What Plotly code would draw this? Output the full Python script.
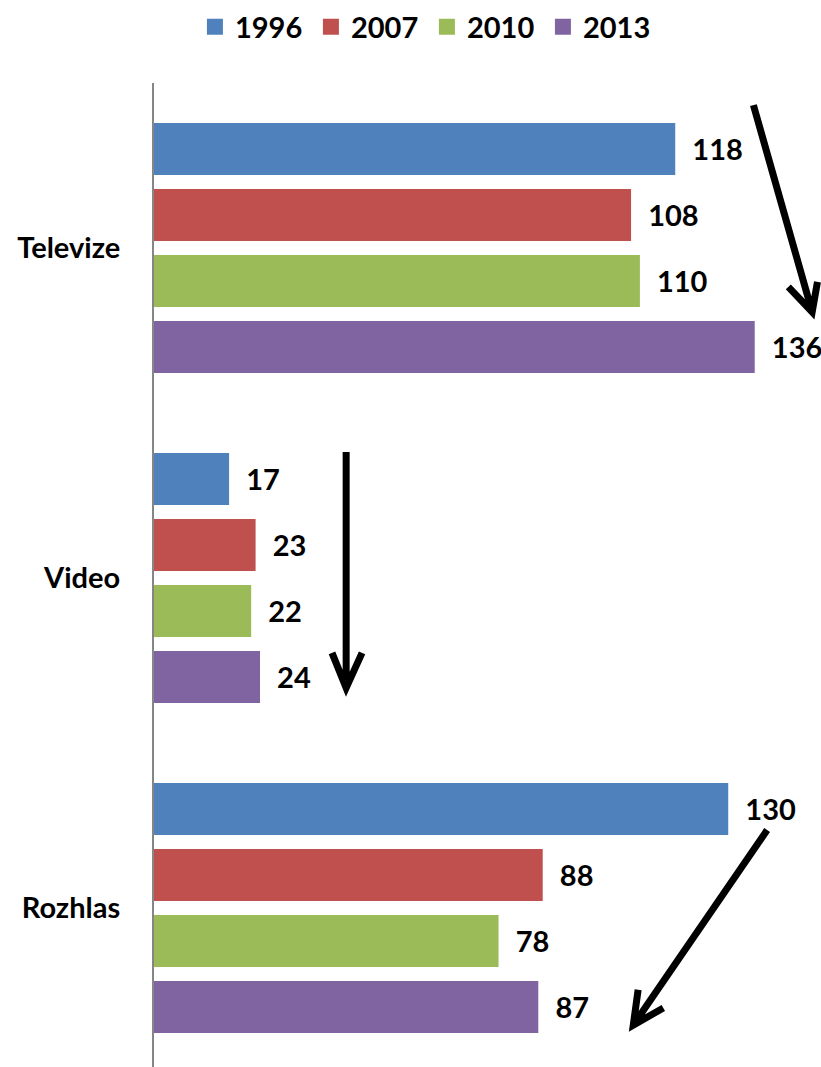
import plotly.graph_objects as go

categories = ["Televize", "Video", "Rozhlas"]
years = ["1996", "2007", "2010", "2013"]
v1996 = [118, 17, 130]
v2007 = [108, 23, 88]
v2010 = [110, 22, 78]
v2013 = [136, 24, 87]
colors = ["#4F81BD", "#C0504D", "#9BBB59", "#8064A2"]

series = [v1996, v2007, v2010, v2013]
ypos = list(range(len(categories)))
FONT = "Lato"
FS = 29

fig = go.Figure()
for name, vals, col in zip(years, series, colors):
    fig.add_trace(go.Bar(
        x=vals, y=ypos, orientation="h", name=name,
        marker=dict(color=col, line=dict(width=0)),
        text=[str(v) for v in vals],
        texttemplate="&nbsp;&nbsp;%{text}",
        textposition="outside", cliponaxis=False, constraintext="none",
        textfont=dict(family=FONT, size=FS, color="black", weight="bold"),
        showlegend=False, hoverinfo="skip",
    ))
    fig.add_trace(go.Scatter(
        x=[None], y=[None], mode="markers", name=name,
        marker=dict(symbol="square", size=18, color=col),
        showlegend=True,
    ))

# arrows (decorations) in data coordinates: (tail, tip, arm1, arm2)
arrows = [
    ((135.7, -0.433), (149.0, 0.194), (143.6, 0.118), (150.2, 0.103)),
    ((43.5, 0.618), (43.5, 1.333), (40.3, 1.227), (47.1, 1.227)),
    ((138.8, 1.764), (108.5, 2.355), (109.6, 2.248), (115.3, 2.303)),
]
for tail, tip, a1, a2 in arrows:
    path = (f"M{tail[0]},{tail[1]} L{tip[0]},{tip[1]} "
            f"M{a1[0]},{a1[1]} L{tip[0]},{tip[1]} L{a2[0]},{a2[1]}")
    fig.add_shape(type="path", path=path, xref="x", yref="y",
                  line=dict(color="black", width=7))

fig.update_layout(
    width=821, height=1067,
    margin=dict(l=154, r=0, t=83, b=0),
    plot_bgcolor="white", paper_bgcolor="white",
    barmode="group", bargap=0.2, bargroupgap=0.212,
    legend=dict(orientation="h", xref="container", yref="container",
                x=0.52, xanchor="center", y=1 - 27 / 1067, yanchor="middle",
                font=dict(family=FONT, size=FS, color="black", weight="bold"),
                entrywidth=71, itemsizing="trace"),
    xaxis=dict(range=[0, 151], showticklabels=False, showgrid=False,
               zeroline=False, showline=False, ticks=""),
    yaxis=dict(range=[2.482, -0.5], tickvals=ypos, ticktext=categories,
               showgrid=False, zeroline=False, showline=True,
               linecolor="#868686", linewidth=2, ticks="",
               ticklabelstandoff=26,
               tickfont=dict(family=FONT, size=FS, color="black", weight="bold")),
)

fig.write_html(
    "out.html",
    config={"displayModeBar": False},
    post_script="document.body.style.margin='0';document.body.style.overflow='hidden';",
)
